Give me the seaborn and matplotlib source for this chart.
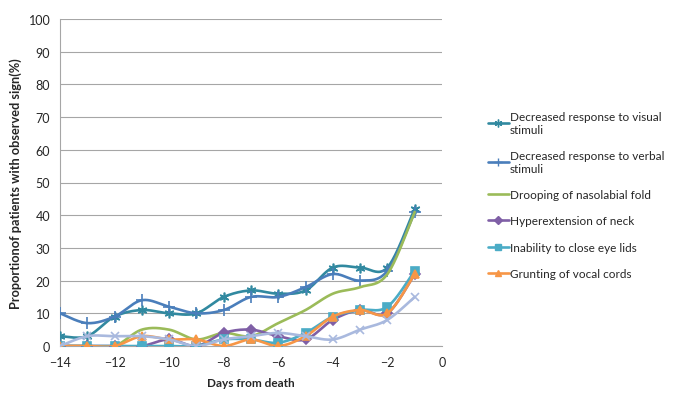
import numpy as np
import pandas as pd
import matplotlib
matplotlib.use("Agg")
import matplotlib.pyplot as plt
from matplotlib.lines import Line2D
import seaborn as sns

days = [-14, -13, -12, -11, -10, -9, -8, -7, -6, -5, -4, -3, -2, -1]

visual = [3, 3, 9, 11, 10, 10, 15, 17, 16, 17, 24, 24, 24, 42]
verbal = [10, 7, 9, 14, 12, 10, 11, 15, 15, 18, 22, 20, 23, 41]
drooping = [0, 0, 0, 5, 5, 2, 4, 3, 7, 11, 16, 18, 22, 41]
neck = [0, 0, 0, 0, 2, 0, 4, 5, 3, 2, 8, 11, 10, 22]
eyelids = [0, 0, 0, 0, 0, 0, 2, 2, 1, 4, 9, 11, 12, 23]
grunting = [0, 0, 0, 3, 2, 2, 0, 2, 0, 3, 9, 11, 10, 22]
other = [0, 3, 3, 3, 2, 0, 2, 3, 4, 3, 2, 5, 8, 15]

labels = ["Decreased response to visual\nstimuli",
          "Decreased response to verbal\nstimuli",
          "Drooping of nasolabial fold",
          "Hyperextension of neck",
          "Inability to close eye lids",
          "Grunting of vocal cords",
          None]
series = [visual, verbal, drooping, neck, eyelids, grunting, other]
colors = ["#3189A0", "#4A7EBB", "#9BBB59", "#7F5FA6", "#4BACC6", "#F79646", "#A9B9DE"]
markers = [(6, 2, 0), "+", None, "D", "s", "^", "x"]
msizes = [7, 8, 0, 5, 6, 6, 6]


def smooth(xs, ys, n=24):
    # excel style smoothed line (catmull-rom bezier)
    p = np.column_stack([xs, ys]).astype(float)
    out = []
    for i in range(len(p) - 1):
        p0 = p[i - 1] if i > 0 else p[i]
        p1, p2 = p[i], p[i + 1]
        p3 = p[i + 2] if i + 2 < len(p) else p[i + 1]
        c1 = p1 + (p2 - p0) / 6.0
        c2 = p2 - (p3 - p1) / 6.0
        t = np.linspace(0, 1, n)[:, None]
        b = ((1 - t) ** 3) * p1 + 3 * ((1 - t) ** 2) * t * c1 + 3 * (1 - t) * t ** 2 * c2 + t ** 3 * p2
        out.append(b if i == 0 else b[1:])
    return np.vstack(out)


sns.set_style("white")
plt.rcParams['font.family'] = ['Lato', 'DejaVu Sans']

fig = plt.figure(figsize=(6.76, 4.06), dpi=100)
ax = fig.add_axes([60 / 676, 1 - 347 / 406, 382 / 676, 327 / 406])

handles = []
for i, ys in enumerate(series):
    curve = smooth(days, ys)
    d = pd.DataFrame({"x": curve[:, 0], "y": curve[:, 1]})
    sns.lineplot(data=d, x="x", y="y", ax=ax, color=colors[i], lw=1.9,
                 sort=False, estimator=None, zorder=3 + i)
    if markers[i] is not None:
        ax.plot(days, ys, ls="none", marker=markers[i], ms=msizes[i], color=colors[i],
                mec=colors[i], mew=1.2, zorder=3 + i)
    if labels[i] is not None:
        handles.append(Line2D([], [], color=colors[i], lw=1.9, marker=markers[i],
                              ms=msizes[i] * 0.8, mew=1.0, label=labels[i]))

ax.set_xlim(-14, 0)
ax.set_ylim(0, 100)
ax.set_xticks(range(-14, 1, 2))
ax.set_yticks(range(0, 101, 10))
ax.grid(axis="y", color="#A6A6A6", lw=0.8)
ax.set_axisbelow(True)
for s in ["top", "right"]:
    ax.spines[s].set_visible(False)
for s in ["left", "bottom"]:
    ax.spines[s].set_color("#A6A6A6")
    ax.spines[s].set_linewidth(0.8)
ax.tick_params(axis="both", direction="out", length=4, width=0.8, color="#A6A6A6",
               labelsize=9, pad=3)
ax.set_xlabel("Days from death", fontsize=8.5, fontweight="bold", labelpad=7)
ax.set_ylabel("Proportionof patients with observed sign(%)", fontsize=9.2, fontweight="bold", labelpad=5)

fig.legend(handles=handles, loc="upper left", bbox_to_anchor=(483 / 676, 1 - 107 / 406),
           frameon=False, fontsize=8.5, handlelength=1.8, handletextpad=0.1,
           labelspacing=1.3, borderaxespad=0)

fig.savefig("out.png", dpi=100)
